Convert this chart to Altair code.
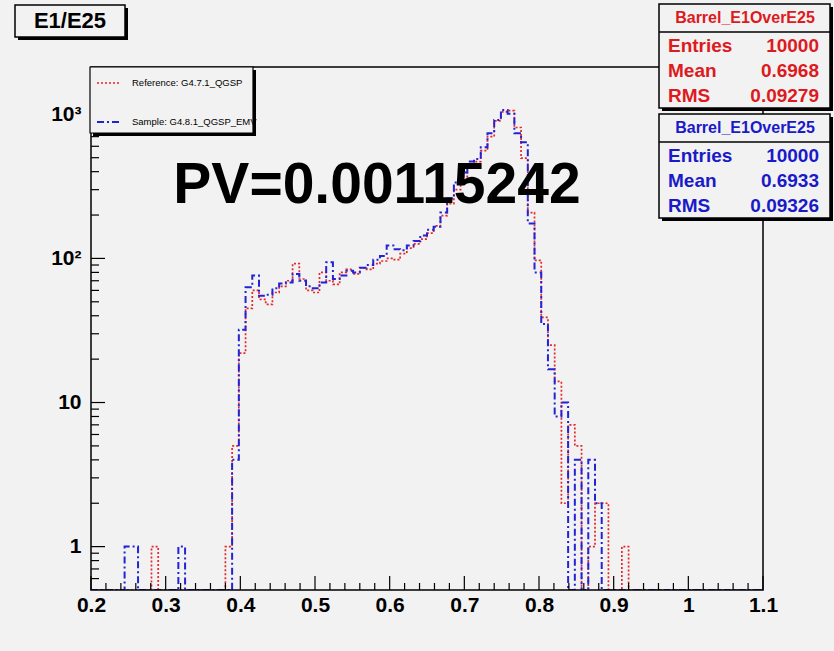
import altair as alt
import pandas as pd
import numpy as np

# ---------------- data ----------------
BIN_LO = 0.2
BIN_W = 0.009
N_BINS = 100

ref_counts = [
    0, 0, 0, 0, 0, 0, 0, 0, 0, 1,
    0, 0, 0, 0, 0, 0, 0, 0, 0, 0,
    1, 5, 22, 45, 60, 52, 48, 58, 64, 70,
    92, 72, 60, 58, 80, 70, 66, 80, 84, 78,
    86, 84, 92, 96, 100, 98, 108, 118, 126, 136,
    150, 168, 198, 240, 300, 370, 430, 470, 560, 700,
    900, 1040, 1060, 810, 496, 208, 97, 39, 25, 14,
    2, 7, 5, 0, 1, 2, 2, 0, 0, 1,
    0, 0, 0, 0, 0, 0, 0, 0, 0, 0,
    0, 0, 0, 0, 0, 0, 0, 0, 0, 0,
]
sample_counts = [
    0, 0, 0, 0, 0, 1, 1, 0, 0, 0,
    0, 0, 0, 1, 0, 0, 0, 0, 0, 0,
    0, 4, 32, 63, 76, 55, 56, 62, 67, 68,
    78, 70, 64, 62, 68, 94, 72, 76, 82, 80,
    86, 90, 98, 104, 123, 116, 114, 123, 132, 144,
    158, 166, 208, 260, 337, 395, 470, 490, 590, 740,
    914, 1073, 1010, 740, 640, 175, 80, 35, 17, 8,
    10, 0, 4, 0, 4, 2, 0, 0, 0, 0,
    0, 0, 0, 0, 0, 0, 0, 0, 0, 0,
    0, 0, 0, 0, 0, 0, 0, 0, 0, 0,
]

x_labels = [0.2, 0.3, 0.4, 0.5, 0.6, 0.7, 0.8, 0.9, 1.0, 1.1]
y_labels = [1, 10, 100, 1000]

title_text = "E1/E25"
pv_text = "PV=0.00115242"
legend_texts = ["Reference: G4.7.1_QGSP", "Sample: G4.8.1_QGSP_EMV"]
stat_title = "Barrel_E1OverE25"
stat_names = ["Entries", "Mean", "RMS"]
ref_stats = ["10000", "0.6968", "0.09279"]
sample_stats = ["10000", "0.6933", "0.09326"]

# ---------------- layout / style ----------------
W, H = 672, 523
PAD = {"left": 91, "top": 67, "right": 71, "bottom": 61}
FONT = "Liberation Sans"
BG = "#f2f2f2"
RED = "#e5262a"
BLUE = "#2323d6"
RED_TXT = "#dd1a1e"
BLUE_TXT = "#1a1ac8"

edges = [round(BIN_LO + BIN_W * i, 4) for i in range(N_BINS + 1)]


def hist_df(counts):
    return pd.DataFrame({"edge": edges, "count": list(counts) + [counts[-1]]})


xscale = alt.Scale(domain=[0.2, 1.1], nice=False, zero=False)
yscale = alt.Scale(type="log", domain=[0.5, 2130], nice=False)

xaxis = alt.Axis(values=x_labels, format="~g", title=None, grid=False, domain=False,
                 ticks=False, tickSize=0, labelFont=FONT, labelFontWeight="bold",
                 labelFontSize=21, labelColor="black", labelPadding=4,
                 labelOverlap=False, labelFlush=False)
yaxis = alt.Axis(values=y_labels, title=None, grid=False, domain=False, ticks=False,
                 tickSize=0, labelFont=FONT, labelFontWeight="bold", labelFontSize=21,
                 labelColor="black", labelPadding=10, labelOverlap=False, labelFlush=False,
                 labelExpr="datum.value >= 1000 ? '10³' : datum.value >= 100 ? '10²' : datum.value >= 10 ? '10' : '1'")


def hist_layer(counts, color, dash, sw):
    return alt.Chart(hist_df(counts)).transform_calculate(
        yv="max(datum.count, 0.5)"
    ).mark_line(interpolate="step-after", color=color, strokeDash=dash,
                strokeWidth=sw, clip=True).encode(
        x=alt.X("edge:Q", scale=xscale, axis=xaxis),
        y=alt.Y("yv:Q", scale=yscale, axis=yaxis),
    )


ONE = alt.InlineData(values=[{"k": 0}])


def txt(s, x, y, size, color="black", align="left", baseline="middle", weight="bold"):
    return alt.Chart(ONE).mark_text(text=s, align=align, baseline=baseline, fontSize=size,
                                    font=FONT, fontWeight=weight, color=color).encode(
        x=alt.value(x), y=alt.value(y))


def box(x1, y1, x2, y2, fill, stroke="black", sw=1.5, shadow=3):
    layers = []
    if shadow:
        layers.append(alt.Chart(ONE).mark_rect(fill="black").encode(
            x=alt.value(x1 + shadow), x2=alt.value(x2 + shadow),
            y=alt.value(y1 + shadow), y2=alt.value(y2 + shadow)))
    layers.append(alt.Chart(ONE).mark_rect(fill=fill, stroke=stroke, strokeWidth=sw).encode(
        x=alt.value(x1), x2=alt.value(x2), y=alt.value(y1), y2=alt.value(y2)))
    return layers


def hline(x1, x2, y, color="black", sw=1.5, dash=None):
    kw = dict(color=color, strokeWidth=sw)
    if dash:
        kw["strokeDash"] = dash
    return alt.Chart(ONE).mark_rule(**kw).encode(x=alt.value(x1), x2=alt.value(x2), y=alt.value(y))


# tick marks (inward, ROOT style)
x_major = pd.DataFrame({"v": x_labels})
x_minor = pd.DataFrame({"v": [round(0.2 + 0.02 * i, 3) for i in range(46) if i % 5 != 0]})
y_major = pd.DataFrame({"v": y_labels})
y_minor_vals = [0.6, 0.7, 0.8, 0.9] + [m * d for d in (1, 10, 100) for m in range(2, 10)] + [2000]
y_minor = pd.DataFrame({"v": y_minor_vals})


def xticks(df, L):
    return alt.Chart(df).mark_rule(color="black", strokeWidth=1.2).encode(
        x=alt.X("v:Q", scale=xscale, axis=xaxis), y=alt.value(H), y2=alt.value(H - L))


def yticks(df, L):
    return alt.Chart(df).mark_rule(color="black", strokeWidth=1.2).encode(
        y=alt.Y("v:Q", scale=yscale, axis=yaxis), x=alt.value(0), x2=alt.value(L))


layers = []
layers.append(hist_layer(ref_counts, RED, [2, 2], 1.7))
layers.append(hist_layer(sample_counts, BLUE, [7, 3, 2, 3], 2.0))
layers += [xticks(x_major, 14), xticks(x_minor, 7), yticks(y_major, 14), yticks(y_minor, 8)]

# plot frame
layers.append(alt.Chart(ONE).mark_rect(fillOpacity=0, stroke="black", strokeWidth=1.5).encode(
    x=alt.value(0), x2=alt.value(W), y=alt.value(0), y2=alt.value(H)))

# legend
layers += box(-1, 0, 162, 66, BG, sw=1.2, shadow=3)
layers.append(hline(6, 30, 16, RED, 1.6, [2, 2]))
layers.append(hline(6, 30, 55, BLUE, 2.0, [7, 3, 2, 3]))
layers.append(txt(legend_texts[0], 41, 16, 9.5, weight="normal"))
layers.append(txt(legend_texts[1], 41, 55, 9.5, weight="normal"))

# PV text
layers.append(txt(pv_text, 286, 136, 57, align="center", baseline="alphabetic"))

# title box
layers += box(-76, -62, 34, -30, BG, sw=1.5, shadow=3)
layers.append(txt(title_text, -21, -46, 22, align="center"))

# stats boxes
def stats_box(y0, color, values):
    out = box(568, y0, 739, y0 + 104, BG, sw=1.5, shadow=3)
    out.append(hline(568, 739, y0 + 28, "black", 1.5))
    out.append(txt(stat_title, 654, y0 + 14, 16, color=color, align="center"))
    for i, (n, v) in enumerate(zip(stat_names, values)):
        yy = y0 + 42 + 25 * i
        out.append(txt(n, 577, yy, 19, color=color))
        out.append(txt(v, 728, yy, 19, color=color, align="right"))
    return out

layers += stats_box(-63, RED_TXT, ref_stats)
layers += stats_box(47, BLUE_TXT, sample_stats)

chart = alt.layer(*layers).properties(
    width=W, height=H, padding=PAD,
    autosize=alt.AutoSizeParams(type="none"),
).configure(background=BG).configure_view(stroke=None, fill=BG)

chart.save("out.html", embed_options={"renderer": "svg", "actions": False})
